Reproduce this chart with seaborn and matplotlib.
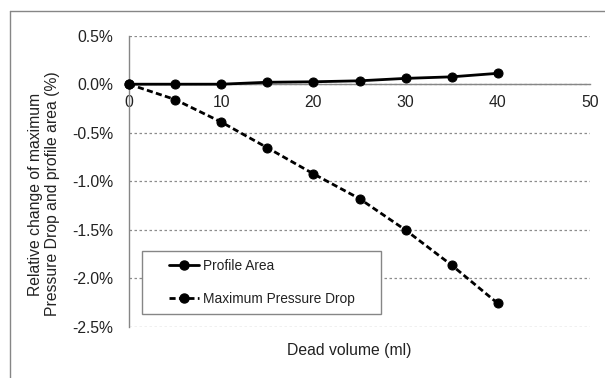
import numpy as np
import pandas as pd
import matplotlib
matplotlib.use("Agg")
import matplotlib.pyplot as plt
import seaborn as sns
from matplotlib.patches import Rectangle
from matplotlib.lines import Line2D
from matplotlib.ticker import FuncFormatter

dead_volume = [0, 5, 10, 15, 20, 25, 30, 35, 40]
profile_area = [0.000, 0.000, 0.000, 0.020, 0.025, 0.035, 0.060, 0.076, 0.112]
pressure_drop = [0.000, -0.158, -0.390, -0.655, -0.924, -1.180, -1.504, -1.866, -2.260]
series_names = ["Profile Area", "Maximum Pressure Drop"]
x_ticks = [0, 10, 20, 30, 40, 50]
y_ticks = [0.5, 0.0, -0.5, -1.0, -1.5, -2.0, -2.5]

df = pd.DataFrame({
    "x": dead_volume * 2,
    "y": profile_area + pressure_drop,
    "series": [series_names[0]] * len(dead_volume) + [series_names[1]] * len(dead_volume),
})

sns.set_style("white")
plt.rcParams["font.family"] = ["Liberation Sans", "DejaVu Sans"]
plt.rcParams["font.size"] = 11.3

fig = plt.figure(figsize=(6.05, 3.78), dpi=100)
ax = fig.add_axes([129 / 605, 1 - 326.7 / 378, (590 - 129) / 605, (326.7 - 35.7) / 378])

grey = "#868686"
txt = "#222222"
lw = 2.0
dash = (2.2, 1.2)
ms = 6.5

ax.set_ylim(-2.5, 0.5)
ax.set_xlim(0, 50)
ax.set_yticks(y_ticks)
ax.set_xticks(x_ticks)
ax.yaxis.set_major_formatter(FuncFormatter(lambda v, p: f"{v:.1f}%"))
ax.grid(axis="y", color="#8c8c8c", linestyle=(0, (2, 2)), linewidth=0.9)
ax.grid(axis="x", visible=False)

sns.lineplot(
    data=df, x="x", y="y", style="series", ax=ax,
    markers={series_names[0]: "o", series_names[1]: "o"},
    dashes={series_names[0]: "", series_names[1]: dash},
    color="black", linewidth=lw, markersize=ms, markeredgecolor="black",
    legend=False, zorder=5, clip_on=False,
)

for s in ["top", "right"]:
    ax.spines[s].set_visible(False)
ax.spines["bottom"].set_position(("data", 0))
ax.spines["bottom"].set_color(grey)
ax.spines["left"].set_color(grey)
ax.spines["bottom"].set_linewidth(1.0)
ax.spines["left"].set_linewidth(1.0)
ax.tick_params(axis="x", direction="out", length=4, width=1, color=grey, pad=3.5, labelsize=11.3, labelcolor=txt)
ax.tick_params(axis="y", direction="out", length=4, width=1, color=grey, pad=7.5, labelsize=11.3, labelcolor=txt)
ax.set_xlabel("")
ax.set_ylabel("")

fig.text(349.5 / 605, 1 - 350 / 378, "Dead volume (ml)", ha="center", va="center", fontsize=11.3, color=txt)
fig.text(44 / 605, 1 - 194 / 378, "Relative change of maximum\nPressure Drop and profile area (%)",
         ha="center", va="center", rotation=90, fontsize=11.3, color=txt, linespacing=1.1)

# legend frame
rect = Rectangle((12.7 / 461, 12.7 / 291), 239 / 461, 63.3 / 291, transform=ax.transAxes,
                 facecolor="white", edgecolor=grey, linewidth=1.0, zorder=6)
ax.add_patch(rect)
handles = [
    Line2D([], [], color="black", linewidth=lw, marker="o", markersize=ms),
    Line2D([], [], color="black", linewidth=lw, marker="o", markersize=ms, dashes=dash),
]
leg = ax.legend(handles, series_names, loc="center left", bbox_to_anchor=(39.7 / 461, (326.7 - 282.5) / 291),
                frameon=False, borderpad=0, borderaxespad=0, handlelength=2.2, handletextpad=0.3,
                labelspacing=1.35, fontsize=9.9)
leg.set_zorder(7)
for t in leg.get_texts():
    t.set_color(txt)

# outer chart frame
fig.add_artist(Line2D([10 / 605, 10 / 605], [0, 1 - 11 / 378], transform=fig.transFigure, color=grey, linewidth=1.0))
fig.add_artist(Line2D([10 / 605, 1], [1 - 11 / 378, 1 - 11 / 378], transform=fig.transFigure, color=grey, linewidth=1.0))

fig.savefig("out.png", dpi=100)
